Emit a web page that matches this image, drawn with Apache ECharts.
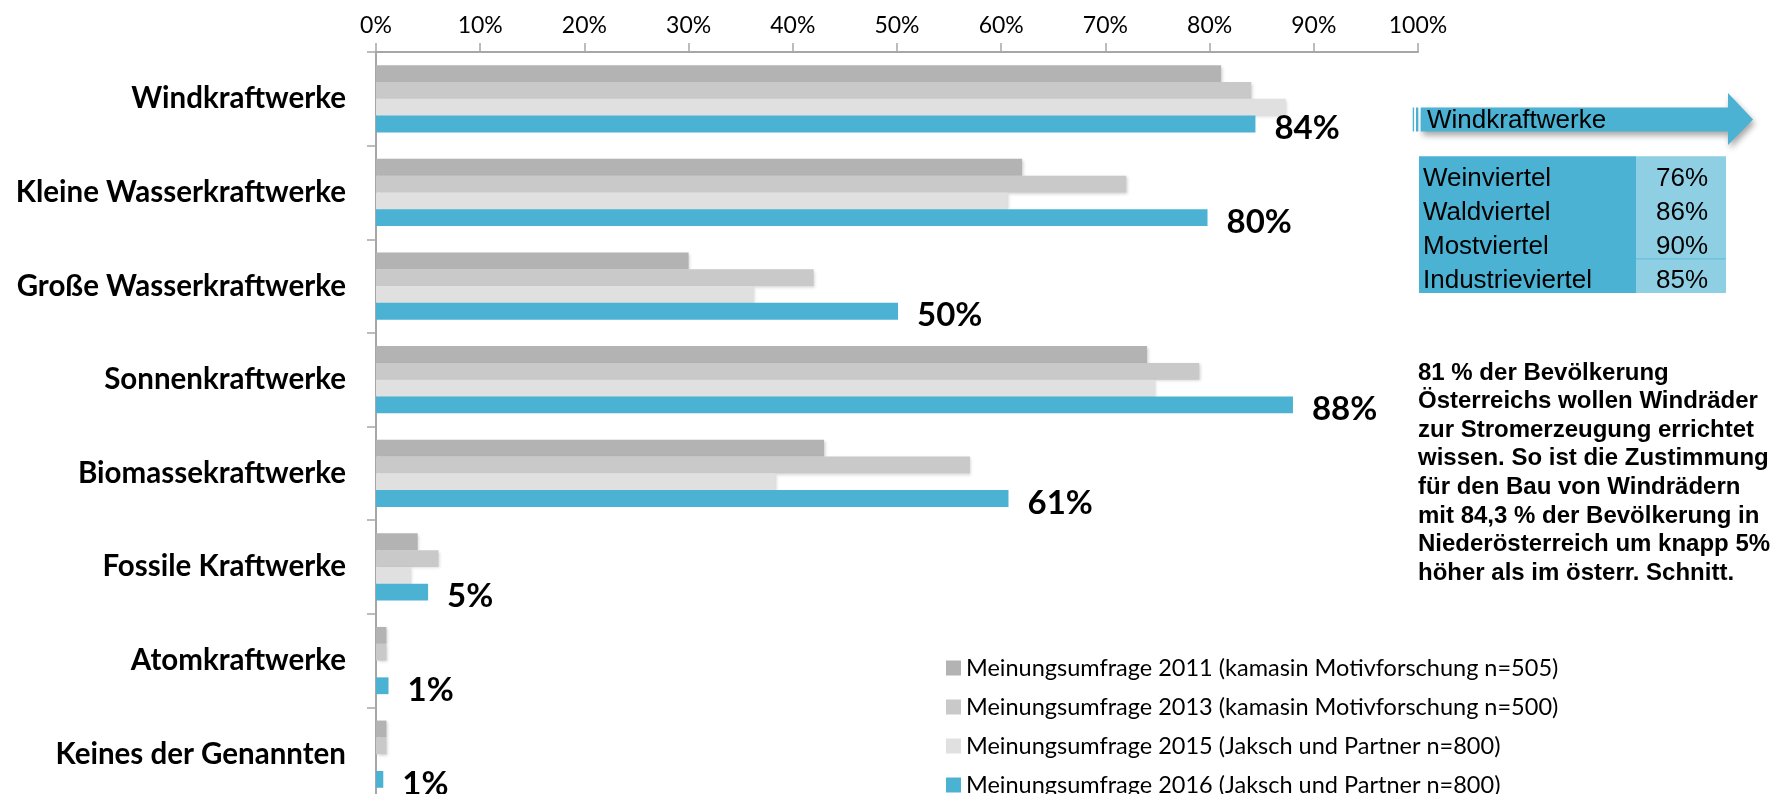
<!DOCTYPE html>
<html>
<head>
<meta charset="utf-8">
<script src="https://cdn.jsdelivr.net/npm/echarts@6/dist/echarts.min.js"></script>
<style>
html,body{margin:0;padding:0;background:#fff;}
#chart{width:1789px;height:794px;}
</style>
</head>
<body>
<div id="chart"></div>
<script>
const categories = ['Windkraftwerke','Kleine Wasserkraftwerke','Große Wasserkraftwerke','Sonnenkraftwerke','Biomassekraftwerke','Fossile Kraftwerke','Atomkraftwerke','Keines der Genannten'];
const seriesNames = [
  'Meinungsumfrage 2011 (kamasin Motivforschung n=505)',
  'Meinungsumfrage 2013 (kamasin Motivforschung n=500)',
  'Meinungsumfrage 2015 (Jaksch und Partner n=800)',
  'Meinungsumfrage 2016 (Jaksch und Partner n=800)'
];
const s2011 = [81.1, 62.0, 30.0, 74.0, 43.0, 4.0, 1.0, 1.0];
const s2013 = [84.0, 72.0, 42.0, 79.0, 57.0, 6.0, 1.0, 1.0];
const s2015 = [87.3, 60.6, 36.2, 74.7, 38.3, 3.3, 0, 0];
const s2016 = [84.4, 79.8, 50.1, 88.0, 60.7, 5.0, 1.2, 0.7];
const xMin = 0, xMax = 100, xInterval = 10;

const arrowTitle = 'Windkraftwerke';
const regions = ['Weinviertel','Waldviertel','Mostviertel','Industrieviertel'];
const regionValues = ['76%','86%','90%','85%'];
const noteLines = [
  '81 % der Bevölkerung',
  'Österreichs wollen Windräder',
  'zur Stromerzeugung errichtet',
  'wissen. So ist die Zustimmung',
  'für den Bau von Windrädern',
  'mit 84,3 % der Bevölkerung in',
  'Niederösterreich um knapp 5%',
  'höher als im österr. Schnitt.'
];

const colors = ['#b3b3b3','#c9c9c9','#e0e0e0','#4bb2d4'];
const seriesData = [s2011, s2013, s2015, s2016];
const baseFont = 'Lato, "Open Sans", sans-serif';
const arial = '"Liberation Sans", Arial, sans-serif';

const series = seriesData.map((d, i) => ({
  name: seriesNames[i],
  type: 'bar',
  data: d,
  barWidth: 16.8,
  barGap: '0%',
  itemStyle: i < 3 ? {color: colors[i], shadowColor: 'rgba(0,0,0,0.18)', shadowBlur: 3, shadowOffsetX: 1.5, shadowOffsetY: 1.5} : {color: colors[i]},
  label: i === 3 ? {
    show: true, position: 'right', distance: 19, offset: [0, 4.5],
    formatter: p => Math.round(p.value) + '%',
    fontFamily: baseFont, fontWeight: 'bold', fontSize: 33, color: '#000'
  } : {show: false},
  emphasis: {disabled: true}
}));

// graphic annotations (right side)
const graphics = [];
const ax = 1420.7, bodyTop = 107.5, bodyBot = 131.5, headX = 1728, tipX = 1753, headTop = 93, headBot = 145;
graphics.push({type:'rect', shape:{x:1412.7, y:bodyTop, width:1.4, height:bodyBot-bodyTop}, style:{fill:'#4bb2d4'}});
graphics.push({type:'rect', shape:{x:1416, y:bodyTop, width:2.3, height:bodyBot-bodyTop}, style:{fill:'#4bb2d4'}});
graphics.push({type:'polygon', shape:{points:[[ax,bodyTop],[headX,bodyTop],[headX,headTop],[tipX,(bodyTop+bodyBot)/2],[headX,headBot],[headX,bodyBot],[ax,bodyBot]]},
  style:{fill:'#4bb2d4', shadowColor:'rgba(0,0,0,0.35)', shadowBlur:6, shadowOffsetX:2, shadowOffsetY:4}});
graphics.push({type:'text', x:1427, y:121, style:{text:arrowTitle, font:'26px ' + arial, fill:'#000', textVerticalAlign:'middle', textAlign:'left'}});

const tX = 1419, tMid = 1636, tR = 1726, tTop = 156.3, rowH = 34.2;
graphics.push({type:'rect', shape:{x:tX, y:tTop, width:tMid-tX, height:rowH*4}, style:{fill:'#4bb2d4'}});
graphics.push({type:'rect', shape:{x:tMid, y:tTop, width:tR-tMid, height:rowH*4}, style:{fill:'#8fcfe3'}});
graphics.push({type:'line', shape:{x1:tMid, y1:tTop+rowH*3, x2:tR, y2:tTop+rowH*3}, style:{stroke:'#5cbbd9', lineWidth:1}});
regions.forEach((r, i) => {
  const cy = tTop + rowH*i + rowH/2 + 5;
  graphics.push({type:'text', x:1423, y:cy, style:{text:r, font:'26px ' + arial, fill:'#000', textVerticalAlign:'middle', textAlign:'left'}});
  graphics.push({type:'text', x:1682, y:cy, style:{text:regionValues[i], font:'26px ' + arial, fill:'#000', textVerticalAlign:'middle', textAlign:'center'}});
});
noteLines.forEach((ln, i) => {
  graphics.push({type:'text', x:1418, y:373 + i*28.6, style:{text:ln, font:'bold 24px ' + arial, fill:'#000', textVerticalAlign:'middle', textAlign:'left'}});
});

const legends = seriesNames.map((n, i) => ({
  orient: 'vertical', left: 941, top: 651 + i*39,
  itemWidth: 15, itemHeight: 15, icon: 'rect',
  textStyle: {fontFamily: baseFont, fontSize: 23.5, color: '#000', lineHeight: 24},
  selectedMode: false,
  data: [n]
}));

const chart = echarts.init(document.getElementById('chart'), null, {renderer:'canvas'});
chart.setOption({
  animation: false,
  backgroundColor: '#fff',
  grid: {left: 376, width: 1042, top: 52, height: 749, containLabel: false, outerBoundsMode: 'none'},
  xAxis: {
    type: 'value', position: 'top', min: xMin, max: xMax, interval: xInterval,
    axisLine: {show: true, lineStyle: {color: '#a6a6a6', width: 2}},
    axisTick: {show: true, length: 9, lineStyle: {color: '#a6a6a6', width: 1.5}},
    axisLabel: {formatter: '{value}%', fontFamily: baseFont, fontSize: 23, color: '#000', margin: 15},
    splitLine: {show: false}
  },
  yAxis: {
    type: 'category', data: categories, inverse: true,
    axisLine: {show: true, lineStyle: {color: '#a6a6a6', width: 2}},
    axisTick: {show: true, length: 9, lineStyle: {color: '#a6a6a6', width: 1.5}},
    axisLabel: {fontFamily: baseFont, fontWeight: 'bold', fontSize: 29.5, color: '#000', margin: 30, padding: [6, 0, 0, 0]}
  },
  legend: legends,
  series: series,
  graphic: graphics
});
</script>
</body>
</html>
